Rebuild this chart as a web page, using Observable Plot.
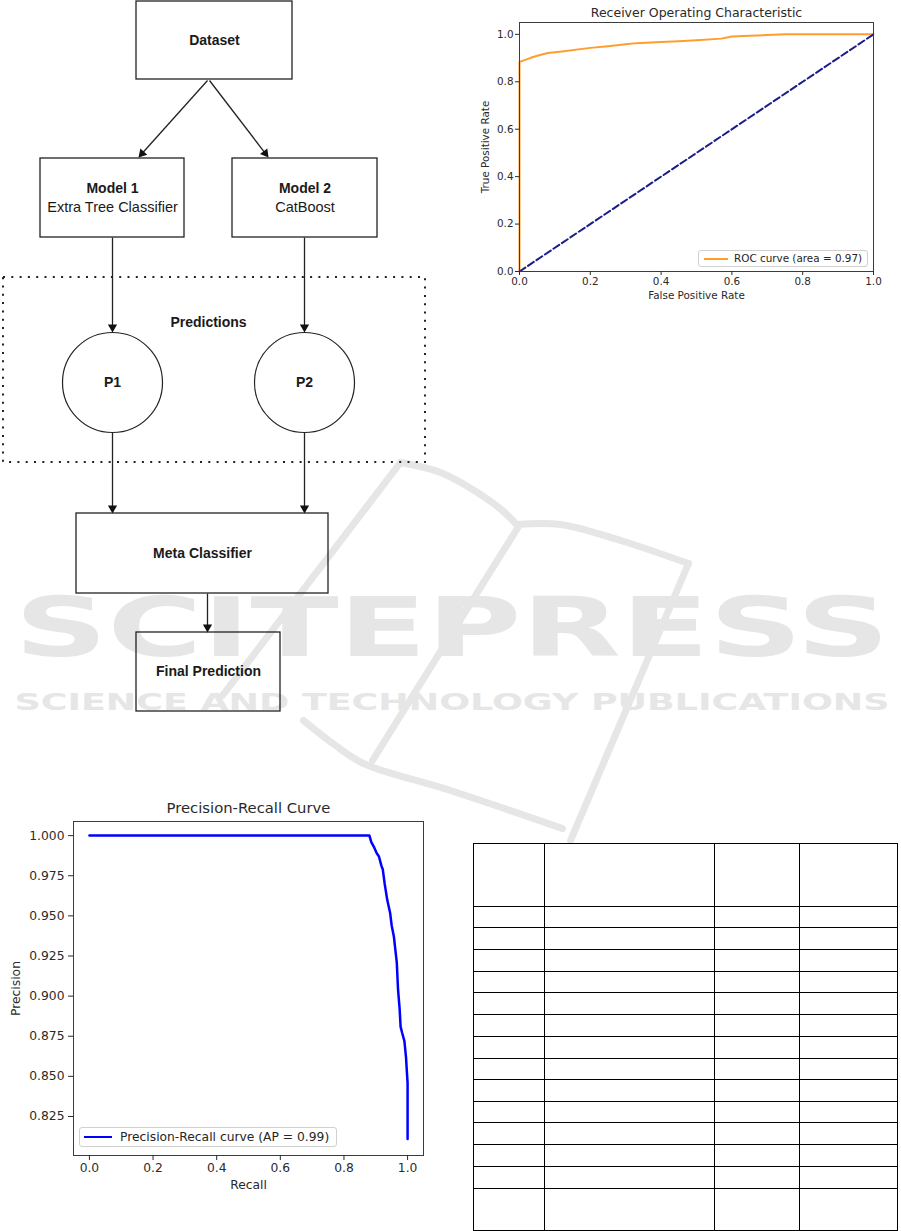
<!DOCTYPE html>
<html>
<head>
<meta charset="utf-8">
<script src="https://cdn.jsdelivr.net/npm/d3@7"></script>
<script src="https://cdn.jsdelivr.net/npm/@observablehq/plot@0.6"></script>
<style>
  html, body { margin: 0; padding: 0; background: #fff; }
  #page { position: relative; width: 901px; height: 1231px; overflow: hidden; background: #fff; }
  .layer { position: absolute; }
  .layer svg { display: block; max-width: none; }
  .legend { position: absolute; box-sizing: border-box; border: 1px solid #d0d0d0; border-radius: 3px;
            background: rgba(255,255,255,0.85); font-family: "DejaVu Sans", sans-serif; color: #262626; z-index: 3; }
  .legend .swatch { position: absolute; }
  .legend .label { position: absolute; white-space: nowrap; }
  table.grid { position: absolute; border-collapse: collapse; table-layout: fixed; z-index: 2; }
  table.grid td { border: 1.3px solid #000; padding: 0; }
</style>
</head>
<body>
<div id="page"></div>
<script>
// ---------------- DATA ----------------
// Flowchart
const boxTitles = ["Dataset", "Model 1", "Model 2", "Meta Classifier", "Final Prediction"];
const boxSubtitles = ["", "Extra Tree Classifier", "CatBoost", "", ""];
const boxX1 = [136, 40, 232, 76, 136];
const boxX2 = [292, 184, 377, 328, 280];
const boxY1 = [1, 158, 158, 513, 632];
const boxY2 = [79, 237, 237, 593, 711];

const predLabels = ["P1", "P2"];
const predX = [112, 304];
const predY = [382, 382];

const groupLabel = ["Predictions"];
const groupX1 = [3], groupX2 = [425], groupY1 = [277], groupY2 = [462];
const groupLabelX = [208], groupLabelY = [322];

const edgeX1 = [207, 209, 112, 304, 112, 304, 207];
const edgeY1 = [80, 80, 237, 237, 432, 432, 593];
const edgeX2 = [138, 268, 112, 304, 112, 304, 207];
const edgeY2 = [157, 157, 332, 332, 513, 513, 632];

// ROC chart
const rocFpr = [0, 0, 0.01, 0.03, 0.05, 0.08, 0.12, 0.2, 0.25, 0.3, 0.33, 0.4, 0.45, 0.5, 0.57, 0.6, 0.65, 0.7, 0.75, 0.85, 1.0];
const rocTpr = [0, 0.884, 0.889, 0.9, 0.91, 0.921, 0.928, 0.943, 0.95, 0.958, 0.963, 0.968, 0.971, 0.975, 0.982, 0.991, 0.994, 0.997, 1.0, 1.0, 1.0];
const diagFpr = [0, 1];
const diagTpr = [0, 1];
const rocTicks = [0, 0.2, 0.4, 0.6, 0.8, 1.0];
const rocTitle = ["Receiver Operating Characteristic"];
const rocXLabel = ["False Positive Rate"];
const rocYLabel = ["True Positive Rate"];
const rocLegend = ["ROC curve (area = 0.97)"];

// Precision-Recall chart
const prRecall = [0, 0.880, 0.886, 0.894, 0.903, 0.910, 0.918, 0.922, 0.928, 0.936, 0.945, 0.950, 0.957, 0.962, 0.966, 0.970, 0.975, 0.978, 0.983, 0.990, 0.995, 0.998, 1.0, 1.0];
const prPrecision = [1.0, 1.0, 0.996, 0.993, 0.989, 0.987, 0.981, 0.979, 0.970, 0.960, 0.952, 0.944, 0.937, 0.928, 0.921, 0.904, 0.892, 0.881, 0.877, 0.872, 0.862, 0.852, 0.846, 0.811];
const prXTicks = [0, 0.2, 0.4, 0.6, 0.8, 1.0];
const prYTicks = [0.825, 0.85, 0.875, 0.9, 0.925, 0.95, 0.975, 1.0];
const prTitle = ["Precision-Recall Curve"];
const prXLabel = ["Recall"];
const prYLabel = ["Precision"];
const prLegend = ["Precision-Recall curve (AP = 0.99)"];

// Table (empty cells)
const tableRows = [
  ["", "", "", ""], ["", "", "", ""], ["", "", "", ""], ["", "", "", ""], ["", "", "", ""],
  ["", "", "", ""], ["", "", "", ""], ["", "", "", ""], ["", "", "", ""], ["", "", "", ""],
  ["", "", "", ""], ["", "", "", ""], ["", "", "", ""], ["", "", "", ""], ["", "", "", ""]
];

// Watermark (publisher logo strokes and words)
const wmWords = ["SCITEPRESS", "SCIENCE AND TECHNOLOGY PUBLICATIONS"];
const wmStroke = ["a","a","a","a","a", "b","b","b","b", "c","c", "d","d", "f","f", "e","e","e","e","e"];
const wmX = [400, 440, 480, 503, 516,  516, 560, 620, 688,  400, 222,  518, 372,  688, 570,   303, 335, 363, 450, 562];
const wmY = [462, 472, 494, 511, 524,  524, 524, 540, 563,  462, 695,  526, 760,  563, 840,   720, 745, 763, 790, 828];

// ---------------- BUILD ----------------
const page = document.getElementById("page");
function addLayer(node, left, top, z) {
  const d = document.createElement("div");
  d.className = "layer";
  d.style.left = left + "px"; d.style.top = top + "px"; d.style.zIndex = z;
  d.appendChild(node);
  page.appendChild(d);
  return d;
}

// Watermark
const wmColor = "#e6e6e6";
const wmPts = wmX.map((x, i) => ({x, y: wmY[i], s: wmStroke[i]}));
const wmText = wmWords.map((t, i) => ({t, x: 14, y: i === 0 ? 629 : 702.6}));
const wm = Plot.plot({
  width: 901, height: 1231, margin: 0,
  x: {domain: [0, 901], range: [0, 901], axis: null},
  y: {domain: [0, 1231], range: [0, 1231], axis: null},
  style: {background: "transparent", overflow: "visible"},
  marks: [
    Plot.line(wmPts, {x: "x", y: "y", z: "s", stroke: wmColor, strokeWidth: 7, curve: "catmull-rom", strokeLinecap: "round"}),
    Plot.text(wmText.slice(0, 1), {x: "x", y: "y", text: "t", textAnchor: "start", lineAnchor: "middle", fill: wmColor, fontSize: 82, fontWeight: "bold", fontFamily: "DejaVu Sans"}),
    Plot.text(wmText.slice(1), {x: "x", y: "y", text: "t", textAnchor: "start", lineAnchor: "middle", fill: wmColor, fontSize: 23, fontWeight: "bold", fontFamily: "DejaVu Sans"})
  ]
});
wm.querySelectorAll('g[aria-label="text"] text').forEach(t => {
  t.setAttribute("textLength", 875);
  t.setAttribute("lengthAdjust", "spacingAndGlyphs");
});
addLayer(wm, 0, 0, 0);

// Flowchart
const boxes = boxTitles.map((t, i) => ({t, sub: boxSubtitles[i], x1: boxX1[i], x2: boxX2[i], y1: boxY1[i], y2: boxY2[i],
  cx: (boxX1[i] + boxX2[i]) / 2, cy: (boxY1[i] + boxY2[i]) / 2}));
const preds = predLabels.map((t, i) => ({t, x: predX[i], y: predY[i]}));
const group = groupLabel.map((t, i) => ({t, x1: groupX1[i], x2: groupX2[i], y1: groupY1[i], y2: groupY2[i], lx: groupLabelX[i], ly: groupLabelY[i]}));
const headS = 5.3;
const edges = edgeX1.map((x1, i) => {
  const x2 = edgeX2[i], y1 = edgeY1[i], y2 = edgeY2[i];
  const dx = x2 - x1, dy = y2 - y1, L = Math.hypot(dx, dy);
  return {x1, y1, x2, y2, hx: x2 - dx / L * headS, hy: y2 - dy / L * headS, angle: Math.atan2(dx, -dy) * 180 / Math.PI};
});
const flowFont = "Liberation Sans, Arial, sans-serif";
const flow = Plot.plot({
  width: 440, height: 720, margin: 0,
  x: {domain: [0, 440], range: [0, 440], axis: null},
  y: {domain: [0, 720], range: [0, 720], axis: null},
  style: {background: "transparent", overflow: "visible", fontFamily: flowFont},
  marks: [
    Plot.rect(group, {x1: "x1", x2: "x2", y1: "y1", y2: "y2", fill: "none", stroke: "#222", strokeWidth: 2, strokeDasharray: "2 6.3"}),
    Plot.rect(boxes, {x1: "x1", x2: "x2", y1: "y1", y2: "y2", fill: "none", stroke: "#222", strokeWidth: 1.3}),
    Plot.dot(preds, {x: "x", y: "y", r: 50, fill: "none", stroke: "#222", strokeWidth: 1.2}),
    Plot.link(edges, {x1: "x1", y1: "y1", x2: "hx", y2: "hy", stroke: "#222", strokeWidth: 1.3}),
    Plot.dot(edges, {x: "hx", y: "hy", symbol: "triangle2", r: 4.4, fill: "#111", stroke: "none", rotate: "angle"}),
    Plot.text(boxes.filter(d => !d.sub), {x: "cx", y: "cy", text: "t", fontSize: 14, fontWeight: "bold", fill: "#1a1a1a"}),
    Plot.text(boxes.filter(d => d.sub), {x: "cx", y: "cy", text: "t", dy: -9.5, fontSize: 14, fontWeight: "bold", fill: "#1a1a1a"}),
    Plot.text(boxes.filter(d => d.sub), {x: "cx", y: "cy", text: "sub", dy: 9.5, fontSize: 14.5, fill: "#1a1a1a"}),
    Plot.text(preds, {x: "x", y: "y", text: "t", fontSize: 14, fontWeight: "bold", fill: "#1a1a1a"}),
    Plot.text(group, {x: "lx", y: "ly", text: "t", fontSize: 14, fontWeight: "bold", fill: "#1a1a1a"})
  ]
});
addLayer(flow, 0, 0, 1);

// ROC chart
const rocCurve = rocFpr.map((x, i) => ({x, y: rocTpr[i]}));
const rocDiag = diagFpr.map((x, i) => ({x, y: diagTpr[i]}));
const roc = Plot.plot({
  width: 420, height: 310, marginLeft: 49, marginRight: 17, marginTop: 22, marginBottom: 39,
  style: {background: "transparent", overflow: "visible", fontFamily: "DejaVu Sans, sans-serif", fontSize: "10.4px", color: "#2a2a2a"},
  x: {domain: [0, 1]},
  y: {domain: [0, 1.05]},
  marks: [
    Plot.line(rocCurve, {x: "x", y: "y", stroke: "#ff9d2e", strokeWidth: 2}),
    Plot.line(rocDiag, {x: "x", y: "y", stroke: "#1c1c8c", strokeWidth: 2, strokeDasharray: "7 3.2"}),
    Plot.frame({stroke: "#3c3c3c", strokeWidth: 1}),
    Plot.axisX({ticks: rocTicks, tickFormat: d3.format(".1f"), tickSize: 4, tickPadding: 2, label: null}),
    Plot.axisY({ticks: rocTicks, tickFormat: d3.format(".1f"), tickSize: 4, tickPadding: 2, label: null}),
    Plot.text(rocTitle, {text: d => d, frameAnchor: "top", lineAnchor: "middle", textAnchor: "middle", dy: -10, fontSize: 12.5}),
    Plot.text(rocXLabel, {text: d => d, frameAnchor: "bottom", lineAnchor: "middle", textAnchor: "middle", dy: 24, fontSize: 10.4}),
    Plot.text(rocYLabel, {text: d => d, frameAnchor: "left", lineAnchor: "middle", textAnchor: "middle", dx: -34, rotate: -90, fontSize: 10.4})
  ]
});
addLayer(roc, 470, 0, 1);

// PR chart
const prCurve = prRecall.map((x, i) => ({x, y: prPrecision[i]}));
const pr = Plot.plot({
  width: 450, height: 430, marginLeft: 73, marginRight: 27, marginTop: 41, marginBottom: 55,
  style: {background: "transparent", overflow: "visible", fontFamily: "DejaVu Sans, sans-serif", fontSize: "12.3px", color: "#2a2a2a"},
  x: {domain: [-0.05, 1.05]},
  y: {domain: [0.8007, 1.0088]},
  marks: [
    Plot.line(prCurve, {x: "x", y: "y", stroke: "#0000ff", strokeWidth: 2.5}),
    Plot.frame({stroke: "#3c3c3c", strokeWidth: 1}),
    Plot.axisX({ticks: prXTicks, tickFormat: d3.format(".1f"), tickSize: 5, tickPadding: 3, label: null}),
    Plot.axisY({ticks: prYTicks, tickFormat: d3.format(".3f"), tickSize: 5, tickPadding: 4, label: null}),
    Plot.text(prTitle, {text: d => d, frameAnchor: "top", lineAnchor: "middle", textAnchor: "middle", dy: -13, fontSize: 14.8}),
    Plot.text(prXLabel, {text: d => d, frameAnchor: "bottom", lineAnchor: "middle", textAnchor: "middle", dy: 30, fontSize: 12.3}),
    Plot.text(prYLabel, {text: d => d, frameAnchor: "left", lineAnchor: "middle", textAnchor: "middle", dx: -57, rotate: -90, fontSize: 12.3})
  ]
});
addLayer(pr, 0, 780, 1);

// Legends
function legend(left, top, w, h, color, sw, swLeft, swLen, text, textLeft, fs) {
  const d = document.createElement("div");
  d.className = "legend";
  Object.assign(d.style, {left: left + "px", top: top + "px", width: w + "px", height: h + "px"});
  const s = document.createElement("div");
  s.className = "swatch";
  Object.assign(s.style, {left: swLeft + "px", width: swLen + "px", height: sw + "px", top: ((h - 2) / 2 - sw / 2) + "px", background: color});
  const t = document.createElement("div");
  t.className = "label";
  Object.assign(t.style, {left: textLeft + "px", top: "0px", lineHeight: (h - 2) + "px", fontSize: fs + "px"});
  t.textContent = text;
  d.appendChild(s); d.appendChild(t);
  page.appendChild(d);
}
legend(698, 250, 170, 17, "#ff9d2e", 2, 5, 24, rocLegend[0], 35, 10.4);
legend(79, 1127, 258, 20, "#0000ff", 2.5, 4, 28, prLegend[0], 40, 12.3);

// Table
const colW = [71, 170, 85, 98];
const rowH = [63, 21, 22, 22, 21, 22, 22, 22, 21, 22, 21, 22, 22, 22, 42];
const tbl = document.createElement("table");
tbl.className = "grid";
tbl.style.left = "472.5px"; tbl.style.top = "842.5px";
tbl.style.width = colW.reduce((a, b) => a + b, 0) + "px";
const cg = document.createElement("colgroup");
colW.forEach(w => { const c = document.createElement("col"); c.style.width = w + "px"; cg.appendChild(c); });
tbl.appendChild(cg);
tableRows.forEach((r, i) => {
  const tr = document.createElement("tr");
  tr.style.height = rowH[i] + "px";
  r.forEach(v => { const td = document.createElement("td"); td.textContent = v; tr.appendChild(td); });
  tbl.appendChild(tr);
});
page.appendChild(tbl);
</script>
</body>
</html>
